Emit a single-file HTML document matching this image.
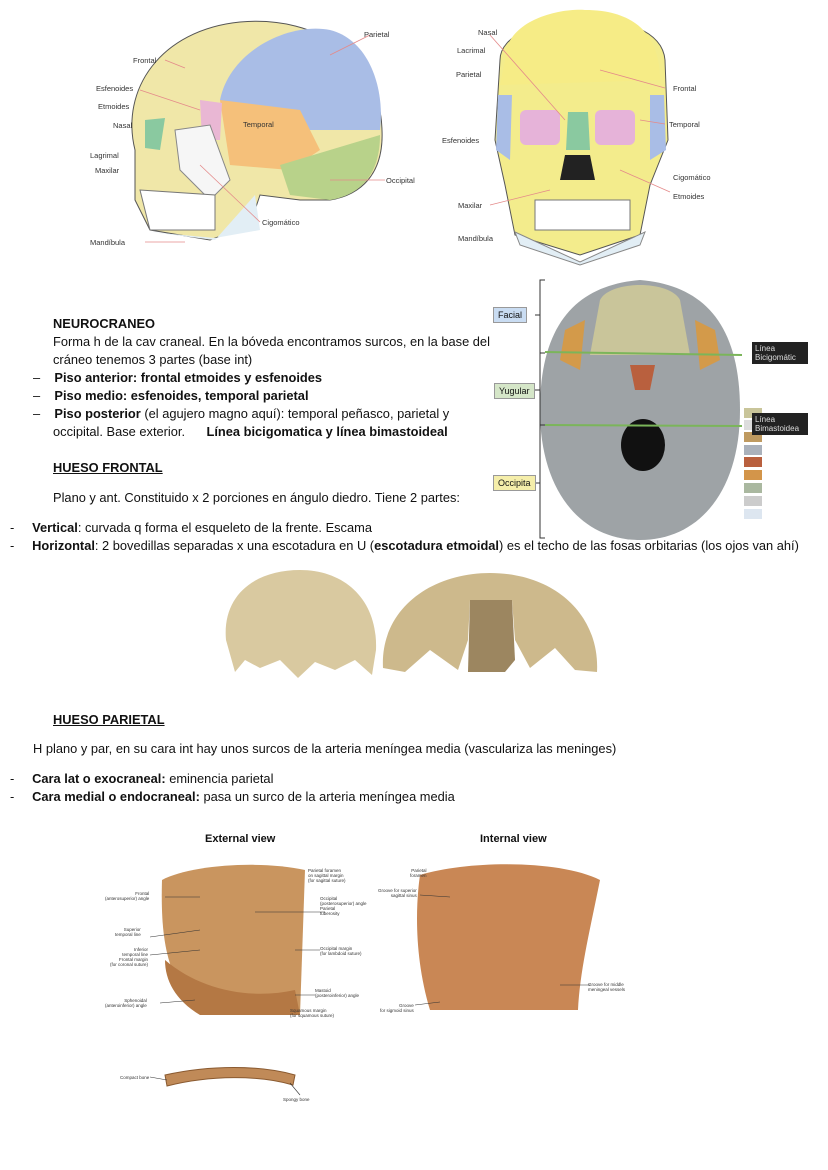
<!DOCTYPE html>
<html><head><meta charset="utf-8"><style>
body{margin:0;width:828px;height:1170px;background:#fff;position:relative;overflow:hidden;font-family:"Liberation Sans",sans-serif;color:#111}
.t{position:absolute;font-size:12.85px;white-space:nowrap;line-height:18px}
.s{position:absolute;font-size:7.5px;color:#333;white-space:nowrap}
.xs{position:absolute;font-size:4.5px;color:#333;white-space:nowrap;line-height:5px;text-align:right}
b{font-weight:bold}
.u{text-decoration:underline;font-weight:bold}
svg{position:absolute;left:0;top:0}
.lb{position:absolute;font-size:9px;padding:2px 4px;border:1px solid #999}
.dk{position:absolute;background:#222;color:#ddd;font-size:8px;line-height:9px;padding:2px 3px;width:50px}
</style></head><body>
<svg width="828" height="1170">
<!-- lateral skull -->
<path d="M135,150 C120,90 160,30 240,22 C320,15 380,60 382,130 C384,175 360,195 330,200 L300,200 L260,195 L250,225 L210,240 L150,230 L135,200 Z" fill="#f0e7a8" stroke="#555"/>
<path d="M220,100 C230,50 290,22 330,30 C370,40 385,90 380,130 L300,130 L250,120 Z" fill="#a9bde6"/>
<path d="M220,100 L300,110 L320,150 L290,170 L230,165 Z" fill="#f5c07a"/>
<path d="M280,165 L380,135 C380,175 360,195 330,200 L290,195 Z" fill="#b8d28a"/>
<path d="M200,100 L222,103 L220,140 L202,140 Z" fill="#e9b7d4"/>
<path d="M145,120 L165,118 L160,150 L145,148 Z" fill="#8ac9a0"/>
<path d="M175,130 L210,125 L230,180 L210,200 L180,170 Z" fill="#f6f6f6" stroke="#888"/>
<path d="M140,190 L215,195 L215,230 L150,230 Z" fill="#fff" stroke="#777"/>
<path d="M150,232 L215,238 L260,230 L255,195 L215,240 Z" fill="#e2eef5"/>
<!-- frontal skull -->
<path d="M500,60 C500,10 660,0 665,60 L668,140 L650,185 L640,235 L580,255 L515,235 L505,185 L495,140 Z" fill="#f3ec8c" stroke="#555"/>
<path d="M505,60 C505,20 560,8 585,10 C640,10 660,40 660,80 L500,85 Z" fill="#f6ec86"/>
<rect x="520" y="110" width="40" height="35" fill="#e6b3d9" rx="6"/>
<rect x="595" y="110" width="40" height="35" fill="#e6b3d9" rx="6"/>
<path d="M568,112 L588,112 L590,150 L566,150 Z" fill="#8ac9a0"/>
<path d="M565,155 L590,155 L595,180 L560,180 Z" fill="#222"/>
<path d="M498,95 L512,95 L510,160 L496,150 Z" fill="#a9bde6"/>
<path d="M650,95 L664,95 L666,150 L650,160 Z" fill="#a9bde6"/>
<rect x="535" y="200" width="95" height="30" fill="#fff" stroke="#777"/>
<path d="M515,232 L580,262 L645,232 L640,245 L580,265 L520,245 Z" fill="#e2eef5" stroke="#888"/>
<!-- skull base -->
<path d="M540,410 C540,320 580,285 640,280 C700,285 740,320 740,410 C740,490 700,540 640,540 C580,540 540,490 540,410 Z" fill="#9ea3a6"/>
<path d="M600,300 C610,280 670,280 680,300 L690,355 L590,355 Z" fill="#c9c59a"/>
<path d="M565,330 L585,320 L580,370 L560,360 Z" fill="#d39a4a"/>
<path d="M695,320 L715,330 L720,360 L700,370 Z" fill="#d39a4a"/>
<path d="M630,365 L655,365 L650,390 L635,390 Z" fill="#b9603e"/>
<ellipse cx="643" cy="445" rx="22" ry="26" fill="#111"/>
<line x1="545" y1="352" x2="742" y2="355" stroke="#7bb55a" stroke-width="2"/>
<line x1="545" y1="425" x2="742" y2="426" stroke="#7bb55a" stroke-width="2"/>
<path d="M545,280 L540,280 L540,538 L545,538 M540,315 L535,315 M540,353 L545,353 M540,390 L535,390 M540,425 L545,425 M540,483 L535,483" stroke="#333" fill="none"/>
<g><rect x="744" y="408" width="18" height="10" fill="#c9c59a"/><rect x="744" y="420" width="18" height="10" fill="#ddd"/><rect x="744" y="432" width="18" height="10" fill="#bf9a60"/><rect x="744" y="445" width="18" height="10" fill="#aab1bb"/><rect x="744" y="457" width="18" height="10" fill="#b9603e"/><rect x="744" y="470" width="18" height="10" fill="#d3954a"/><rect x="744" y="483" width="18" height="10" fill="#aab8a0"/><rect x="744" y="496" width="18" height="10" fill="#ccc"/><rect x="744" y="509" width="18" height="10" fill="#dde6f0"/></g>
<!-- frontal bones -->
<path d="M226,640 C222,595 255,570 300,570 C345,570 378,600 376,650 L372,675 L355,660 L335,670 L315,662 L298,678 L280,660 L260,668 L245,660 L235,672 Z" fill="#d9c9a0"/>
<path d="M383,668 C380,610 430,573 490,573 C555,573 600,615 597,672 L575,670 L555,648 L530,668 L515,640 L512,600 L470,600 L468,640 L458,670 L430,650 L405,672 Z" fill="#cdb98c"/>
<path d="M470,600 L512,600 L515,660 L505,672 L468,672 Z" fill="#9c8660"/>
<!-- parietal -->
<path d="M162,880 C190,865 260,860 305,870 L300,1015 L210,1015 C170,990 160,950 162,880 Z" fill="#c9955f"/>
<path d="M165,960 C200,990 250,1000 295,990 L300,1015 L200,1015 C175,1000 165,980 165,960 Z" fill="#b47844"/>
<path d="M420,875 C470,860 560,860 600,880 C590,930 580,970 578,1010 L430,1010 C415,960 415,910 420,875 Z" fill="#c98755"/>
<path d="M165,1075 C210,1065 260,1065 295,1075 L293,1085 C260,1075 210,1075 167,1086 Z" fill="#c08a58" stroke="#8a5a30"/>
<g stroke="#333" stroke-width=".6"><line x1="165" y1="897" x2="200" y2="897"/><line x1="150" y1="937" x2="200" y2="930"/><line x1="150" y1="955" x2="200" y2="950"/><line x1="160" y1="1003" x2="195" y2="1000"/><line x1="255" y1="912" x2="325" y2="912"/><line x1="295" y1="950" x2="320" y2="950"/><line x1="295" y1="995" x2="315" y2="995"/><line x1="420" y1="895" x2="450" y2="897"/><line x1="560" y1="985" x2="590" y2="985"/><line x1="415" y1="1005" x2="440" y2="1002"/><line x1="150" y1="1077" x2="167" y2="1080"/><line x1="290" y1="1083" x2="300" y2="1095"/></g>
<g stroke="#e48a8a" stroke-width=".8" fill="none"><line x1="165" y1="60" x2="185" y2="68"/><line x1="140" y1="90" x2="200" y2="110"/><line x1="370" y1="35" x2="330" y2="55"/><line x1="385" y1="180" x2="330" y2="180"/><line x1="145" y1="242" x2="185" y2="242"/><line x1="260" y1="222" x2="200" y2="165"/><line x1="490" y1="35" x2="565" y2="120"/><line x1="665" y1="88" x2="600" y2="70"/><line x1="665" y1="124" x2="640" y2="120"/><line x1="670" y1="192" x2="620" y2="170"/><line x1="490" y1="205" x2="550" y2="190"/></g>
</svg>
<div class="s" style="left:364px;top:30px">Parietal</div>
<div class="s" style="left:133px;top:56px">Frontal</div>
<div class="s" style="left:96px;top:84px">Esfenoides</div>
<div class="s" style="left:98px;top:102px">Etmoides</div>
<div class="s" style="left:113px;top:121px">Nasal</div>
<div class="s" style="left:243px;top:120px">Temporal</div>
<div class="s" style="left:90px;top:151px">Lagrimal</div>
<div class="s" style="left:95px;top:166px">Maxilar</div>
<div class="s" style="left:386px;top:176px">Occipital</div>
<div class="s" style="left:262px;top:218px">Cigomático</div>
<div class="s" style="left:90px;top:238px">Mandíbula</div>
<div class="s" style="left:478px;top:28px">Nasal</div>
<div class="s" style="left:457px;top:46px">Lacrimal</div>
<div class="s" style="left:456px;top:70px">Parietal</div>
<div class="s" style="left:673px;top:84px">Frontal</div>
<div class="s" style="left:669px;top:120px">Temporal</div>
<div class="s" style="left:442px;top:136px">Esfenoides</div>
<div class="s" style="left:673px;top:173px">Cigomático</div>
<div class="s" style="left:673px;top:192px">Etmoides</div>
<div class="s" style="left:458px;top:201px">Maxilar</div>
<div class="s" style="left:458px;top:234px">Mandíbula</div>

<div class="lb" style="left:493px;top:307px;background:#c9dcf2">Facial</div>
<div class="lb" style="left:494px;top:383px;background:#d5e6c8">Yugular</div>
<div class="lb" style="left:493px;top:475px;background:#f5eeaa">Occipita</div>
<div class="dk" style="left:752px;top:342px">Línea<br>Bicigomátic</div>
<div class="dk" style="left:752px;top:413px">Línea<br>Bimastoidea</div>

<div class="t" style="left:53px;top:315px"><b>NEUROCRANEO</b></div>
<div class="t" style="left:53px;top:333px">Forma h de la cav craneal. En la bóveda encontramos surcos, en la base del</div>
<div class="t" style="left:53px;top:351px">cráneo tenemos 3 partes (base int)</div>
<div class="t" style="left:33px;top:369px">–&nbsp;&nbsp;&nbsp;&nbsp;<b>Piso anterior: frontal etmoides y esfenoides</b></div>
<div class="t" style="left:33px;top:387px">–&nbsp;&nbsp;&nbsp;&nbsp;<b>Piso medio: esfenoides, temporal parietal</b></div>
<div class="t" style="left:33px;top:405px">–&nbsp;&nbsp;&nbsp;&nbsp;<b>Piso posterior</b> (el agujero magno aquí): temporal peñasco, parietal y</div>
<div class="t" style="left:53px;top:423px">occipital. Base exterior.&nbsp;&nbsp;&nbsp;&nbsp;&nbsp;&nbsp;<b>Línea bicigomatica y línea bimastoideal</b></div>
<div class="t" style="left:53px;top:459px"><span class="u">HUESO FRONTAL</span></div>
<div class="t" style="left:53px;top:489px">Plano y ant. Constituido x 2 porciones en ángulo diedro. Tiene 2 partes:</div>
<div class="t" style="left:10px;top:519px">-&nbsp;&nbsp;&nbsp;&nbsp;&nbsp;<b>Vertical</b>: curvada q forma el esqueleto de la frente. Escama</div>
<div class="t" style="left:10px;top:537px">-&nbsp;&nbsp;&nbsp;&nbsp;&nbsp;<b>Horizontal</b>: 2 bovedillas separadas x una escotadura en U (<b>escotadura etmoidal</b>) es el techo de las fosas orbitarias (los ojos van ahí)</div>
<div class="t" style="left:53px;top:711px"><span class="u">HUESO PARIETAL</span></div>
<div class="t" style="left:33px;top:740px">H plano y par, en su cara int hay unos surcos de la arteria meníngea media (vasculariza las meninges)</div>
<div class="t" style="left:10px;top:770px">-&nbsp;&nbsp;&nbsp;&nbsp;&nbsp;<b>Cara lat o exocraneal:</b> eminencia parietal</div>
<div class="t" style="left:10px;top:788px">-&nbsp;&nbsp;&nbsp;&nbsp;&nbsp;<b>Cara medial o endocraneal:</b> pasa un surco de la arteria meníngea media</div>
<div class="t" style="left:205px;top:830px;font-size:11px"><b>External view</b></div>
<div class="t" style="left:480px;top:830px;font-size:11px"><b>Internal view</b></div>
<div class="xs" style="left:105px;top:891px">Frontal<br>(anterosuperior) angle</div>
<div class="xs" style="left:115px;top:927px">Superior<br>temporal line</div>
<div class="xs" style="left:110px;top:947px">Inferior<br>temporal line<br>Frontal margin<br>(for coronal suture)</div>
<div class="xs" style="left:105px;top:998px">Sphenoidal<br>(anteroinferior) angle</div>
<div class="xs" style="left:308px;top:868px;text-align:left">Parietal foramen<br>on sagittal margin<br>(for sagittal suture)</div>
<div class="xs" style="left:320px;top:896px;text-align:left">Occipital<br>(posterosuperior) angle<br>Parietal<br>tuberosity</div>
<div class="xs" style="left:320px;top:946px;text-align:left">Occipital margin<br>(for lambdoid suture)</div>
<div class="xs" style="left:315px;top:988px;text-align:left">Mastoid<br>(posteroinferior) angle</div>
<div class="xs" style="left:290px;top:1008px;text-align:left">Squamous margin<br>(for squamous suture)</div>
<div class="xs" style="left:410px;top:868px">Parietal<br>foramen</div>
<div class="xs" style="left:378px;top:888px">Groove for superior<br>sagittal sinus</div>
<div class="xs" style="left:588px;top:982px;text-align:left">Groove for middle<br>meningeal vessels</div>
<div class="xs" style="left:380px;top:1003px">Groove<br>for sigmoid sinus</div>
<div class="xs" style="left:120px;top:1075px">Compact bone</div>
<div class="xs" style="left:283px;top:1097px;text-align:left">Spongy bone</div>
</body></html>
